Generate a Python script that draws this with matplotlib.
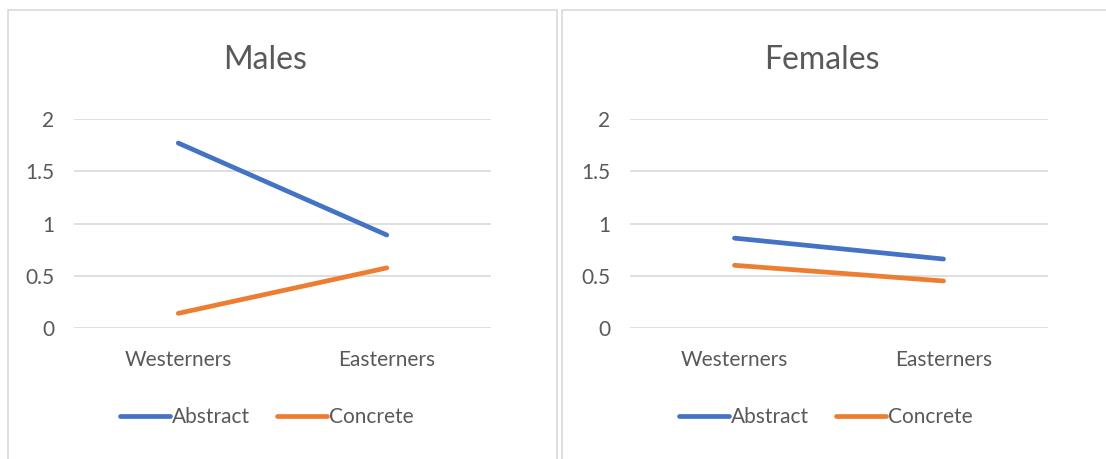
import matplotlib.pyplot as plt
from matplotlib.patches import Rectangle
from matplotlib.lines import Line2D

# group means by condition
groups = ["Westerners", "Easterners"]
males_abstract = [1.77, 0.89]
males_concrete = [0.14, 0.575]
females_abstract = [0.86, 0.66]
females_concrete = [0.60, 0.45]

series_names = ["Abstract", "Concrete"]
BLUE = "#4472C4"
ORANGE = "#ED7D31"
TEXT = "#595959"
GRID = "#D9D9D9"

W, H = 1106, 459
plt.rcParams["font.family"] = ["Lato", "DejaVu Sans"]

fig = plt.figure(figsize=(W / 100, H / 100), dpi=100)


def px_box(left, top, right, bottom):
    return [left / W, 1 - bottom / H, (right - left) / W, (bottom - top) / H]


def panel(frame, axbox, title, title_x, legend_x, abstract, concrete):
    fl, ft, fr, fb = frame
    fig.patches.append(Rectangle((fl / W, 1 - fb / H), (fr - fl) / W, (fb - ft) / H,
                                 transform=fig.transFigure, fill=False,
                                 edgecolor=GRID, linewidth=1.2))
    ax = fig.add_axes(px_box(*axbox))
    x = [0, 1]
    ax.plot(x, abstract, color=BLUE, lw=3.4, solid_capstyle="round", zorder=3)
    ax.plot(x, concrete, color=ORANGE, lw=3.4, solid_capstyle="round", zorder=3)
    ax.set_xlim(-0.5, 1.5)
    ax.set_ylim(0, 2)
    ax.set_yticks([0, 0.5, 1, 1.5, 2])
    ax.set_yticklabels(["0", "0.5", "1", "1.5", "2"])
    ax.set_xticks(x)
    ax.set_xticklabels(groups)
    ax.tick_params(axis="y", length=0, pad=14, labelsize=15, labelcolor=TEXT)
    ax.tick_params(axis="x", length=0, pad=16, labelsize=15, labelcolor=TEXT)
    ax.grid(axis="y", color=GRID, linewidth=1.2)
    ax.set_axisbelow(True)
    for s in ax.spines.values():
        s.set_visible(False)
    fig.text(title_x / W, 1 - 60 / H, title, ha="center", va="center",
             fontsize=23, color=TEXT)
    handles = [Line2D([], [], color=BLUE, lw=3.4, solid_capstyle="round"),
               Line2D([], [], color=ORANGE, lw=3.4, solid_capstyle="round")]
    fig.legend(handles, series_names, loc="center",
               bbox_to_anchor=(legend_x / W, 1 - 417 / H), ncol=2,
               frameon=False, fontsize=15, labelcolor=TEXT,
               handlelength=2.4, handletextpad=0.1, columnspacing=1.3)
    return ax


panel((8, 10, 557, 470), (74, 119, 491, 328), "Males", 265, 267,
      males_abstract, males_concrete)
panel((562, 10, 1120, 470), (630, 119, 1048, 328), "Females", 822, 826,
      females_abstract, females_concrete)

fig.savefig("out.png", dpi=100, facecolor="white")
